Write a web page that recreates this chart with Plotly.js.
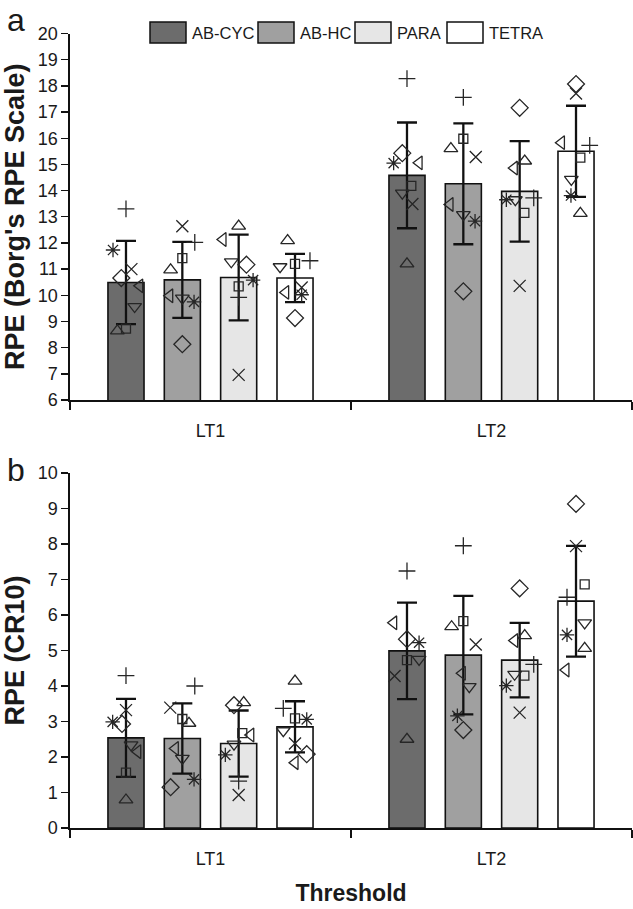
<!DOCTYPE html>
<html>
<head>
<meta charset="utf-8">
<script src="https://cdn.plot.ly/plotly-3.0.1.min.js"></script>
<style>html,body{margin:0;padding:0;background:#fff;}#chart{width:633px;height:909px;}</style>
</head>
<body>
<div id="chart"></div>
<script>
// ---------- DATA ----------
const categories = ['LT1', 'LT2'];
const groups = ['AB-CYC', 'AB-HC', 'PARA', 'TETRA'];
// participant symbols (order of the individual values below)
const symbols = ['triangle-up-open', 'triangle-down-open', 'triangle-left-open', 'diamond-open',
                 'square-open', 'x-thin-open', 'cross-thin-open', 'asterisk-open'];

// Panel a: Borg RPE – group means and SD  [LT1, LT2]
const borgMeanABCYC = [10.49, 14.58], borgSdABCYC = [1.59, 2.02];
const borgMeanABHC  = [10.59, 14.26], borgSdABHC  = [1.45, 2.31];
const borgMeanPARA  = [10.68, 13.97], borgSdPARA  = [1.64, 1.92];
const borgMeanTETRA = [10.66, 15.50], borgSdTETRA = [0.92, 1.74];

// Panel b: CR10 – group means and SD  [LT1, LT2]
const cr10MeanABCYC = [2.54, 4.99], cr10SdABCYC = [1.10, 1.36];
const cr10MeanABHC  = [2.52, 4.87], cr10SdABHC  = [0.99, 1.67];
const cr10MeanPARA  = [2.38, 4.73], cr10SdPARA  = [0.93, 1.05];
const cr10MeanTETRA = [2.85, 6.39], cr10SdTETRA = [0.72, 1.56];

// Individual values (symbol order as above)
const borgLT1ABCYC = [8.64, 9.57, 10.36, 10.66, 8.73, 11.00, 13.30, 11.73];
const borgLT1ABHC  = [10.97, 9.89, 9.98, 8.13, 11.42, 12.64, 12.02, 9.75];
const borgLT1PARA  = [12.64, 11.28, 12.13, 11.17, 10.34, 6.96, 9.92, 10.58];
const borgLT1TETRA = [12.09, 11.09, 10.11, 9.13, 11.20, 10.30, 11.32, 10.02];
const borgLT2ABCYC = [11.20, 13.90, 15.06, 15.43, 14.18, 13.49, 18.28, 15.05];
const borgLT2ABHC  = [15.60, 13.08, 13.47, 10.15, 15.98, 15.28, 17.56, 12.83];
const borgLT2PARA  = [15.13, 13.65, 14.86, 17.16, 13.15, 10.36, 13.72, 13.65];
const borgLT2TETRA = [13.13, 14.43, 15.83, 18.07, 15.26, 17.71, 15.73, 13.81];

const cr10LT1ABCYC = [0.79, 2.34, 2.15, 2.93, 1.56, 3.32, 4.29, 2.99];
const cr10LT1ABHC  = [2.95, 1.96, 2.24, 1.15, 3.07, 3.39, 4.00, 1.37];
const cr10LT1PARA  = [3.53, 2.36, 2.62, 3.46, 2.67, 0.93, 1.32, 2.06];
const cr10LT1TETRA = [4.14, 2.74, 1.84, 2.08, 3.09, 2.38, 3.37, 3.06];
const cr10LT2ABCYC = [2.50, 4.75, 5.78, 5.32, 4.73, 4.28, 7.24, 5.22];
const cr10LT2ABHC  = [5.67, 3.98, 4.36, 2.76, 5.83, 5.17, 7.95, 3.16];
const cr10LT2PARA  = [5.42, 4.33, 5.28, 6.75, 4.29, 3.25, 4.61, 4.01];
const cr10LT2TETRA = [5.06, 5.78, 4.45, 9.13, 6.86, 7.94, 6.50, 5.44];

// horizontal scatter of the individual markers inside each bar (fraction of half bar width)
const jitBorgLT1 = [[-0.48, 0.48, 0.76, -0.26, 0, 0.3, 0, -0.72], [-0.65, 0, -0.7, 0, 0, 0, 0.69, 0.65],
                    [0, -0.41, -0.87, 0.43, 0, 0, 0, 0.8], [-0.41, -0.83, -0.52, 0, 0, 0.37, 0.83, 0.37]];
const jitBorgLT2 = [[0, -0.26, 0.67, -0.26, 0.24, 0.3, 0, -0.74], [-0.69, 0, -0.74, 0, 0, 0.69, 0, 0.65],
                    [0.28, -0.24, -0.3, 0, 0.26, 0, 0.78, -0.74], [0.24, -0.26, -0.81, 0, 0.24, 0, 0.76, -0.28]];
const jitCr10LT1 = [[0, 0.28, 0.65, -0.22, 0, 0, 0, -0.74], [0.37, 0, -0.39, -0.65, 0, -0.67, 0.69, 0.65],
                    [0.28, -0.26, 0.67, -0.26, 0.2, 0, 0, -0.74], [0, -0.65, 0, 0.65, 0, 0, -0.65, 0.65]];
const jitCr10LT2 = [[0, 0.67, -0.74, 0, 0, -0.69, 0, 0.67], [-0.65, 0.33, -0.06, 0, 0, 0.69, 0, -0.33],
                    [0.28, -0.28, -0.28, 0, 0.26, 0, 0.78, -0.74], [0.48, 0.48, -0.56, 0, 0.48, 0, -0.5, -0.5]];

// ---------- STYLE / LAYOUT ----------
const barColors = ['#6c6c6c', '#a0a0a0', '#e6e6e6', '#ffffff'];
const FONT = 'Liberation Sans, Arial, sans-serif';
const TXT = '#1a1a1a';
const W = 633, H = 909, ML = 70, MR = 1;
const BARGAP = 0.198, GROUPGAP = 0.36;
const slot = (1 - BARGAP) / groups.length;
const halfBar = slot * (1 - GROUPGAP) / 2;
const px2x = X => (X - ML) / (W - ML - MR);
const px2y = Y => 1 - Y / H;

const panels = [
  { xa: 'x', ya: 'y',
    means: [borgMeanABCYC, borgMeanABHC, borgMeanPARA, borgMeanTETRA],
    sds: [borgSdABCYC, borgSdABHC, borgSdPARA, borgSdTETRA],
    pts: [[borgLT1ABCYC, borgLT1ABHC, borgLT1PARA, borgLT1TETRA],
          [borgLT2ABCYC, borgLT2ABHC, borgLT2PARA, borgLT2TETRA]],
    jit: [jitBorgLT1, jitBorgLT2] },
  { xa: 'x2', ya: 'y2',
    means: [cr10MeanABCYC, cr10MeanABHC, cr10MeanPARA, cr10MeanTETRA],
    sds: [cr10SdABCYC, cr10SdABHC, cr10SdPARA, cr10SdTETRA],
    pts: [[cr10LT1ABCYC, cr10LT1ABHC, cr10LT1PARA, cr10LT1TETRA],
          [cr10LT2ABCYC, cr10LT2ABHC, cr10LT2PARA, cr10LT2TETRA]],
    jit: [jitCr10LT1, jitCr10LT2] }
];

const sizeMap = { 'square-open': 9, 'triangle-up-open': 12, 'triangle-down-open': 12, 'triangle-left-open': 12,
                  'diamond-open': 13, 'x-thin-open': 12, 'cross-thin-open': 12, 'asterisk-open': 12 };

const traces = [];
panels.forEach((p) => {
  groups.forEach((g, gi) => {
    traces.push({
      type: 'bar', name: g, x: categories.map((c, i) => i), y: p.means[gi],
      xaxis: p.xa, yaxis: p.ya, showlegend: false,
      marker: { color: barColors[gi], line: { color: '#111', width: 1.6 } },
      error_y: { type: 'data', array: p.sds[gi], visible: true, color: '#111', thickness: 2.3, width: 10 },
      hoverinfo: 'skip'
    });
  });
  symbols.forEach((s, si) => {
    const xs = [], ys = [];
    categories.forEach((c, ci) => {
      groups.forEach((g, gi) => {
        xs.push(ci + (gi - 1.5) * slot + p.jit[ci][gi][si] * halfBar);
        ys.push(p.pts[ci][gi][si]);
      });
    });
    traces.push({
      type: 'scatter', mode: 'markers', x: xs, y: ys, xaxis: p.xa, yaxis: p.ya, showlegend: false,
      marker: { symbol: s, size: sizeMap[s], color: '#262626', line: { color: '#262626', width: 1.3 } },
      hoverinfo: 'skip'
    });
  });
});

const commonX = {
  range: [-0.5, 1.5], tickmode: 'array', tickvals: [0, 1], ticktext: categories,
  ticks: 'outside', ticklen: 14, tickcolor: 'rgba(0,0,0,0)',
  showline: true, linecolor: '#111', linewidth: 1.6, zeroline: false, showgrid: false,
  tickfont: { family: FONT, size: 18, color: TXT }, automargin: false,
  minor: { tickmode: 'array', tickvals: [-0.5, 0.5, 1.5], ticks: 'outside', ticklen: 8, tickwidth: 1.6, tickcolor: '#111', showgrid: false }
};
const commonY = {
  showline: true, linecolor: '#111', linewidth: 1.6, zeroline: false, showgrid: false,
  ticks: 'outside', ticklen: 7, tickwidth: 1.4, tickcolor: '#111', dtick: 1,
  tickfont: { family: FONT, size: 18, color: TXT }, automargin: false
};

const shapes = [], annotations = [];
const legX = [150, 258, 355, 447];
groups.forEach((g, gi) => {
  shapes.push({ type: 'rect', xref: 'paper', yref: 'paper', x0: px2x(legX[gi]), x1: px2x(legX[gi] + 36),
                y0: px2y(43), y1: px2y(22), fillcolor: barColors[gi], line: { color: '#111', width: 1.5 } });
  annotations.push({ xref: 'paper', yref: 'paper', x: px2x(legX[gi] + 40), y: px2y(32.5), text: g,
                     showarrow: false, xanchor: 'left', yanchor: 'middle', font: { family: FONT, size: 16.5, color: TXT } });
});
annotations.push({ xref: 'paper', yref: 'paper', x: px2x(5), y: px2y(0), text: 'a', showarrow: false,
                   xanchor: 'left', yanchor: 'top', font: { family: FONT, size: 32, color: TXT } });
annotations.push({ xref: 'paper', yref: 'paper', x: px2x(5), y: px2y(450), text: 'b', showarrow: false,
                   xanchor: 'left', yanchor: 'top', font: { family: FONT, size: 32, color: TXT } });

const layout = {
  width: W, height: H, margin: { l: ML, r: MR, t: 0, b: 0 },
  paper_bgcolor: '#fff', plot_bgcolor: 'rgba(0,0,0,0)',
  barmode: 'group', bargap: BARGAP, bargroupgap: GROUPGAP, showlegend: false,
  font: { family: FONT, color: TXT },
  xaxis: Object.assign({}, commonX, { anchor: 'y' }),
  xaxis2: Object.assign({}, commonX, { anchor: 'y2',
     title: { text: '<b>Threshold</b>', font: { family: FONT, size: 23, color: TXT }, standoff: 16 } }),
  yaxis: Object.assign({}, commonY, { domain: [px2y(400), px2y(33.5)], range: [6, 20], anchor: 'x',
     title: { text: "<b>RPE (Borg's RPE Scale)</b>", font: { family: FONT, size: 27, color: TXT }, standoff: 5 } }),
  yaxis2: Object.assign({}, commonY, { domain: [px2y(828), px2y(473)], range: [0, 10], anchor: 'x2',
     title: { text: '<b>RPE (CR10)</b>', font: { family: FONT, size: 27, color: TXT }, standoff: 5 } }),
  shapes: shapes, annotations: annotations
};

Plotly.newPlot('chart', traces, layout, { displayModeBar: false, staticPlot: true });
</script>
</body>
</html>
